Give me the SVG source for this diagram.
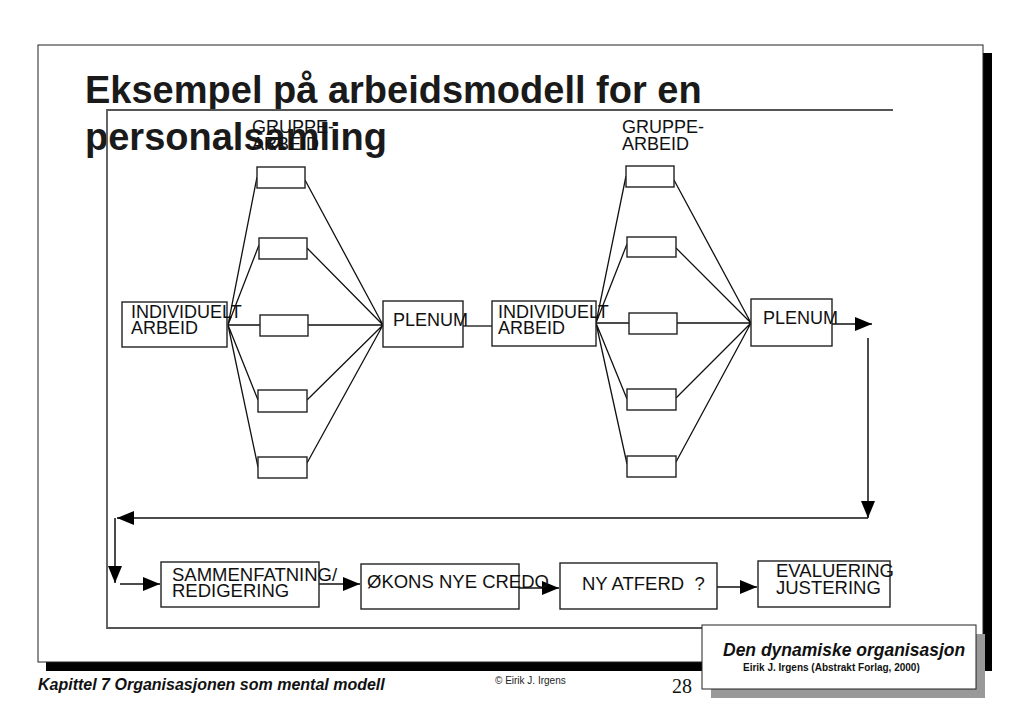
<svg xmlns="http://www.w3.org/2000/svg" width="1024" height="710" viewBox="0 0 1024 710">
<style>
.box{fill:#fff;stroke:#222;stroke-width:1.4}
.lbl{font-family:"Liberation Sans",Arial,sans-serif;font-size:18px;fill:#111}
.lbl2{font-family:"Liberation Sans",Arial,sans-serif;font-size:18.5px;fill:#111}
.ln{stroke:#111;stroke-width:1.3;fill:none}
.ar{stroke:#111;stroke-width:1.5;fill:none;marker-end:url(#ah)}
.frame{stroke:#555;stroke-width:1.8;fill:none}
</style>
<defs>
<marker id="ah" markerUnits="userSpaceOnUse" markerWidth="17" markerHeight="14" refX="17" refY="7" orient="auto">
<path d="M0,0 L17,7 L0,14 z" fill="#000"/>
</marker>
</defs>
<rect width="1024" height="710" fill="#fff"/>
<g id="slide">
<rect x="46" y="53" width="946" height="618" fill="#000"/>
<rect x="38" y="45" width="945" height="617" fill="#fff" stroke="#222" stroke-width="1"/>
</g>
<g id="title">
<text x="85" y="103" font-family="Liberation Sans,Arial,sans-serif" font-weight="bold" font-size="38" fill="#1a1a1a">Eksempel på arbeidsmodell for en</text>
<text x="85" y="150" font-family="Liberation Sans,Arial,sans-serif" font-weight="bold" font-size="38" fill="#1a1a1a">personalsamling</text>
</g>
<g id="inner-frame">
<path class="frame" d="M893,110 L107,110 L107,628 L893,628"/>
</g>
<g id="connectors">
<path class="ln" d="M228,325 L257,177 M228,325 L259,245 M228,325 L260,325 M228,325 L258,400 M228,325 L258,467"/>
<path class="ln" d="M305,180 L383,325 M307,248 L383,325 M308,325 L383,325 M307,400 L383,325 M307,463 L383,325"/>
<path class="ln" d="M463,326 L492,326"/>
<path class="ln" d="M596,323 L626,176 M596,323 L627,244 M596,323 L629,323 M596,323 L627,399 M596,323 L627,464"/>
<path class="ln" d="M674,180 L751,323 M676,248 L751,323 M677,323 L751,323 M676,398 L751,323 M676,462 L751,323"/>
<path class="ar" d="M832,324 L872,324"/>
<path class="ar" d="M868,338 L868,518"/>
<path class="ar" d="M868,518 L117,518"/>
<path class="ar" d="M115,518 L115,583"/>
<path class="ar" d="M120,584 L160,584"/>
<path class="ar" d="M319,584 L360,584"/>
<path class="ar" d="M519,588 L559,588"/>
<path class="ar" d="M717,587 L757,587"/>
</g>
<g id="gruppe-label-1"><text class="lbl" x="252" y="133">GRUPPE-</text><text class="lbl" x="252" y="150">ARBEID</text></g>
<g id="gruppe-label-2"><text class="lbl" x="622" y="133">GRUPPE-</text><text class="lbl" x="622" y="150">ARBEID</text></g>
<g id="individuelt-1"><rect class="box" x="122" y="302" width="105" height="45"/><text class="lbl" x="131" y="318">INDIVIDUELT</text><text class="lbl" x="131" y="334">ARBEID</text></g>
<g id="g1-1"><rect class="box" x="257" y="167" width="48" height="21"/></g>
<g id="g1-2"><rect class="box" x="259" y="238" width="48" height="21"/></g>
<g id="g1-3"><rect class="box" x="260" y="315" width="48" height="21"/></g>
<g id="g1-4"><rect class="box" x="258" y="390" width="49" height="22"/></g>
<g id="g1-5"><rect class="box" x="258" y="457" width="49" height="21"/></g>
<g id="plenum-1"><rect class="box" x="383" y="301" width="80" height="46"/><text class="lbl" x="393" y="326">PLENUM</text></g>
<g id="individuelt-2"><rect class="box" x="492" y="301" width="104" height="45"/><text class="lbl" x="498" y="318">INDIVIDUELT</text><text class="lbl" x="498" y="334">ARBEID</text></g>
<g id="g2-1"><rect class="box" x="626" y="166" width="48" height="21"/></g>
<g id="g2-2"><rect class="box" x="627" y="237" width="49" height="20"/></g>
<g id="g2-3"><rect class="box" x="629" y="313" width="48" height="21"/></g>
<g id="g2-4"><rect class="box" x="627" y="389" width="49" height="21"/></g>
<g id="g2-5"><rect class="box" x="627" y="456" width="49" height="21"/></g>
<g id="plenum-2"><rect class="box" x="751" y="299" width="81" height="47"/><text class="lbl" x="763" y="324">PLENUM</text></g>
<g id="sammenfatning"><rect class="box" x="161" y="562" width="158" height="45"/><text class="lbl2" x="172" y="581">SAMMENFATNING/</text><text class="lbl2" x="172" y="597">REDIGERING</text></g>
<g id="okons"><rect class="box" x="361" y="564" width="158" height="45"/><text class="lbl2" x="367" y="588">ØKONS NYE CREDO</text></g>
<g id="ny-atferd"><rect class="box" x="560" y="563" width="157" height="46"/><text class="lbl2" x="582" y="590">NY ATFERD &#160;?</text></g>
<g id="evaluering"><rect class="box" x="758" y="561" width="132" height="46"/><text class="lbl2" x="776" y="577">EVALUERING</text><text class="lbl2" x="776" y="594">JUSTERING</text></g>
<g id="footer">
<text x="38" y="690" font-family="Liberation Sans,Arial,sans-serif" font-weight="bold" font-style="italic" font-size="16" fill="#111">Kapittel 7 Organisasjonen som mental modell</text>
<text x="495" y="684" font-family="Liberation Sans,Arial,sans-serif" font-size="10" fill="#222">© Eirik J. Irgens</text>
<text x="672" y="693" font-family="Liberation Serif,Times New Roman,serif" font-size="20" fill="#111">28</text>
</g>
<g id="book-box">
<rect x="711" y="634" width="274" height="64" fill="#999"/>
<rect x="702" y="625" width="274" height="64" fill="#fff" stroke="#222" stroke-width="1"/>
<text x="723" y="656" font-family="Liberation Sans,Arial,sans-serif" font-weight="bold" font-style="italic" font-size="17.5" fill="#111">Den dynamiske organisasjon</text>
<text x="743" y="671" font-family="Liberation Sans,Arial,sans-serif" font-weight="bold" font-size="10" fill="#111">Eirik J. Irgens (Abstrakt Forlag, 2000)</text>
</g>
</svg>
